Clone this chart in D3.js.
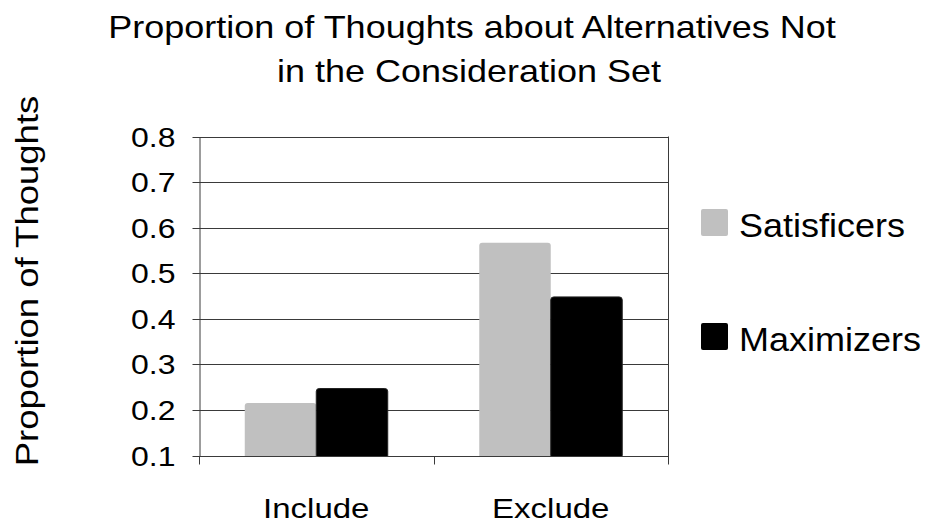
<!DOCTYPE html>
<html><head><meta charset="utf-8">
<script src="https://cdn.jsdelivr.net/npm/d3@7"></script>
<style>
body{margin:0;background:#fff}
svg text{font-family:Arial,"Liberation Sans",sans-serif;fill:#000}
</style>
</head><body>
<svg id="chart" width="930" height="529"></svg>
<script>
// ---- data ----
const categories = ["Include", "Exclude"];
const seriesNames = ["Satisficers", "Maximizers"];
const satisficers = [0.215, 0.567];
const maximizers = [0.247, 0.448];
const yTicks = [0.1, 0.2, 0.3, 0.4, 0.5, 0.6, 0.7, 0.8];
const titleLines = ["Proportion of Thoughts about Alternatives Not", "in the Consideration Set"];
const yAxisTitle = "Proportion of Thoughts";
const seriesColors = ["#c0c0c0", "#000000"];

// ---- layout ----
const svg = d3.select("#chart");
const plot = {left: 199, right: 668, top: 136.5, bottom: 455.5};
const squeeze = 0.86;

const y = d3.scaleLinear().domain([0.1, 0.8]).range([plot.bottom, plot.top]);
const x = d3.scaleBand().domain(categories).range([plot.left, plot.right]).paddingInner(0).paddingOuter(0);
const xs = d3.scaleBand().domain(seriesNames).range([0, x.bandwidth()]).paddingInner(0).paddingOuter(0.64);

const seriesValues = [satisficers, maximizers];

// gridlines
svg.append("g").selectAll("line").data(yTicks).join("line")
  .attr("x1", plot.left).attr("x2", plot.right)
  .attr("y1", d => Math.round(y(d)) + 0.5).attr("y2", d => Math.round(y(d)) + 0.5)
  .attr("stroke", "#3a3a3a").attr("stroke-width", 1);

// bars
categories.forEach((c, ci) => {
  seriesNames.forEach((s, si) => {
    const v = seriesValues[si][ci];
    svg.append("rect")
      .attr("x", x(c) + xs(s))
      .attr("y", y(v))
      .attr("width", xs.bandwidth())
      .attr("height", plot.bottom - y(v) + 3)
      .attr("rx", 3)
      .attr("fill", seriesColors[si])
      .attr("stroke", si === 1 ? "#222" : "none")
      .attr("stroke-width", 1);
  });
});
// cover below axis
svg.append("rect").attr("x", plot.left - 1).attr("y", plot.bottom + 0.5).attr("width", plot.right - plot.left + 2).attr("height", 10).attr("fill", "#fff");

// y axis
const yAxis = svg.append("g").attr("transform", `translate(${plot.left + 0.5},0)`)
  .call(d3.axisLeft(y).tickValues(yTicks).tickFormat(d3.format(".1f")).tickSizeInner(7).tickSizeOuter(0));
yAxis.select(".domain").attr("stroke", "#3a3a3a");
yAxis.selectAll(".tick line").attr("stroke", "#3a3a3a");
yAxis.selectAll(".tick").attr("transform", d => `translate(0,${Math.round(y(d)) + 0.5})`);
yAxis.selectAll(".tick text")
  .attr("x", null).attr("dy", null)
  .attr("font-size", 32).attr("font-family", "Arial, 'Liberation Sans', sans-serif").attr("fill", "#000")
  .attr("text-anchor", "end")
  .attr("transform", `translate(-24, ${0.716 * 32 * squeeze / 2}) scale(1, ${squeeze})`);

// right border
svg.append("line").attr("x1", plot.right + 0.5).attr("x2", plot.right + 0.5)
  .attr("y1", plot.top).attr("y2", plot.bottom + 8).attr("stroke", "#3a3a3a");

// x axis
const xAxis = svg.append("g").attr("transform", `translate(0,${Math.round(plot.bottom) + 0.5})`);
xAxis.append("line").attr("x1", plot.left).attr("x2", plot.right + 1).attr("stroke", "#3a3a3a");
const boundaries = [plot.left, plot.left + x.step(), plot.right];
xAxis.selectAll("line.tk").data(boundaries).join("line").attr("class", "tk")
  .attr("x1", d => Math.round(d) + 0.5).attr("x2", d => Math.round(d) + 0.5)
  .attr("y1", 0).attr("y2", 8).attr("stroke", "#3a3a3a");
xAxis.selectAll("text").data(categories).join("text")
  .attr("text-anchor", "middle").attr("font-size", 33)
  .attr("transform", d => `translate(${x(d) + x.bandwidth() / 2},${516.7 - plot.bottom}) scale(1, ${squeeze})`)
  .text(d => d);

// title
const titleX = [472, 469];
svg.append("g").selectAll("text").data(titleLines).join("text")
  .attr("text-anchor", "middle").attr("font-size", 36)
  .attr("transform", (d, i) => `translate(${titleX[i]},${38 + i * 44}) scale(1, ${squeeze})`)
  .text(d => d);

// y axis title
svg.append("text").attr("text-anchor", "middle").attr("font-size", 36.5)
  .attr("transform", `translate(38,281) rotate(-90) scale(1, ${squeeze})`)
  .text(yAxisTitle);

// legend
const legend = svg.append("g");
seriesNames.forEach((s, i) => {
  const ly = [209, 323][i];
  legend.append("rect").attr("x", 701).attr("y", ly).attr("width", 27).attr("height", 27).attr("rx", 2)
    .attr("fill", seriesColors[i]);
  legend.append("text").attr("font-size", 36)
    .attr("transform", `translate(739,${ly + 27.5}) scale(1, 0.92)`)
    .text(s);
});
</script>
</body></html>
